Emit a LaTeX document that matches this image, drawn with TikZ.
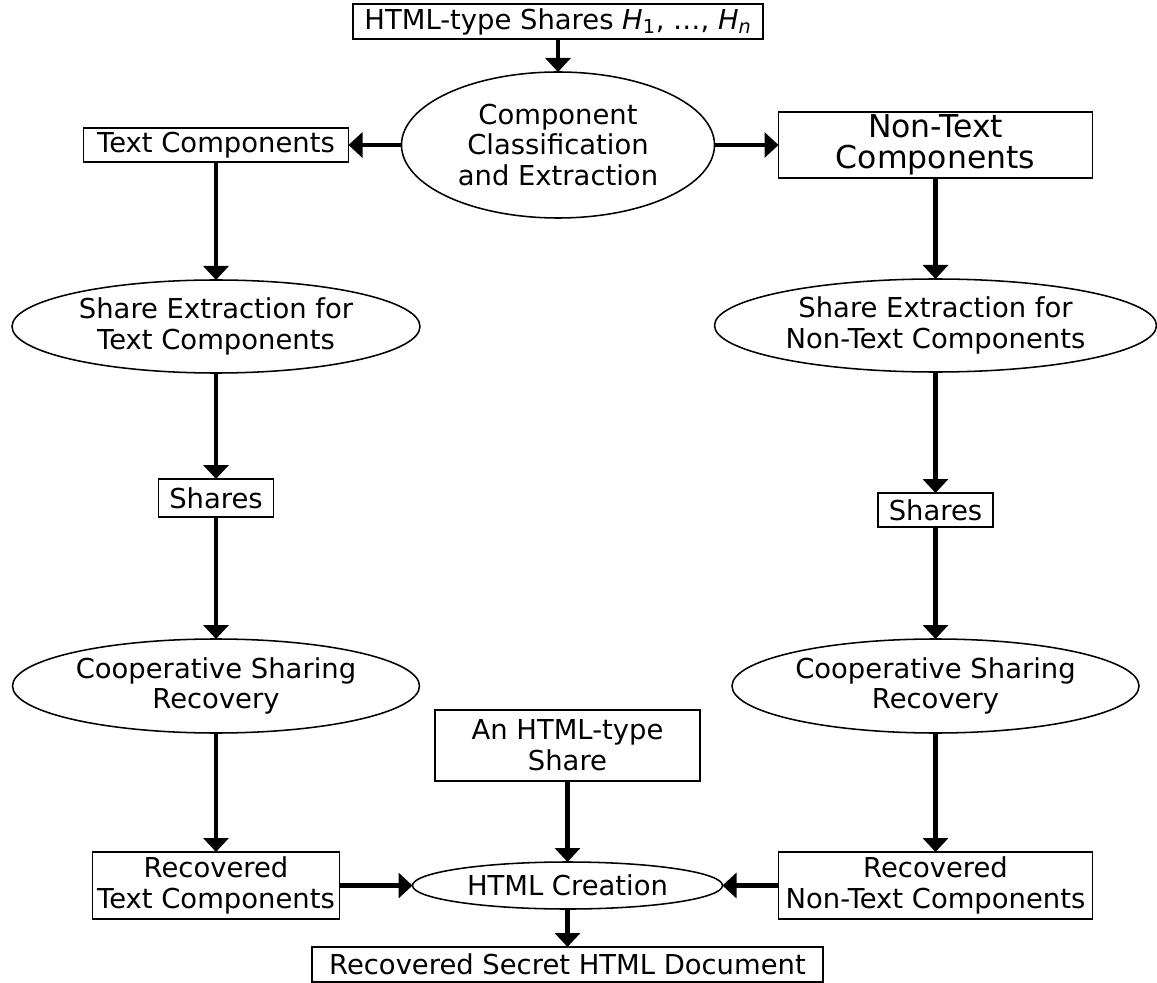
\documentclass[tikz,border=0pt]{standalone}
\usepackage{fontspec}
\setmainfont{DejaVu Sans}
\usetikzlibrary{arrows.meta, positioning, shapes.geometric}

\begin{document}
\begin{tikzpicture}
	[
	node distance=1cm,
        caja/.style={
            rectangle,
            draw=black,
            line width=1.4pt,
            inner sep=0pt,
            outer sep=0pt,
            align=center,
            font=\fontsize{19.5pt}{21.8pt}\selectfont
        },
        cajaGrande/.style={
            caja,
            font=\fontsize{22.4pt}{21.8pt}\selectfont
        },
        elipse/.style={
            ellipse,
            draw=black,
            line width=1.1pt,
            inner sep=0pt,
            outer sep=0pt,
            align=center,
            font=\fontsize{19.5pt}{21.8pt}\selectfont
        },
        flechaFlujo/.style={
            -{Triangle[width=0.625cm, length=0.35cm]},
            line width=3.5pt
        }
    ]
    \useasboundingbox (0,0) rectangle (28.925,-24.575);

    \node(clasificacion) [elipse, minimum width=7.825cm, minimum height=3.65cm] at (13.95,-3.625) {Component\\Classification\\and Extraction};
    \node(comparticiones) [caja, minimum width=10.25cm, minimum height=0.875cm, above=0.825cm of clasificacion] {HTML-type Shares {\itshape H}\textsubscript{1}, \ldots, {\itshape H\textsubscript{n}}};
    \node(textoComp) [caja, minimum width=6.625cm, minimum height=0.85cm, left=1.325cm of clasificacion] {Text Components};
    \node(noTextoComp) [cajaGrande, minimum width=7.85cm, minimum height=1.65cm, right=1.6cm of clasificacion] {Non-Text\\Components};

    \node(extraccionTexto) [elipse, minimum width=10.2cm, minimum height=2.325cm, below=2.95cm of textoComp] {Share Extraction for\\Text Components};
    \node(partesTexto) [caja, minimum width=2.875cm, minimum height=0.95cm, below=2.65cm of extraccionTexto] {Shares};
    \node(cooperativaTexto) [elipse, minimum width=10.175cm, minimum height=2.35cm, below=3.05cm of partesTexto] {Cooperative Sharing\\Recovery};
    \node(recuperadoTexto) [caja, minimum width=6.175cm, minimum height=1.675cm, below=2.975cm of cooperativaTexto] {Recovered\\Text Components};

    \node(extraccionNoTexto) [elipse, minimum width=11.05cm, minimum height=2.325cm, below=2.525cm of noTextoComp] {Share Extraction for\\Non-Text Components};
    \node(partesNoTexto) [caja, minimum width=2.875cm, minimum height=0.85cm, below=3.025cm of extraccionNoTexto] {Shares};
    \node(cooperativaNoTexto) [elipse, minimum width=10.175cm, minimum height=2.35cm, below=2.8cm of partesNoTexto] {Cooperative Sharing\\Recovery};
    \node(recuperadoNoTexto) [caja, minimum width=7.85cm, minimum height=1.675cm, below=2.975cm of cooperativaNoTexto] {Recovered\\Non-Text Components};

    \node(creacionHTML) [elipse, minimum width=7.75cm, minimum height=1.175cm, right=1.825cm of recuperadoTexto] {HTML Creation};
    \node(compartidaHTML) [caja, minimum width=6.625cm, minimum height=1.775cm, above=2.025cm of creacionHTML] {An HTML-type\\Share};
    \node(documentoSecreto) [caja, minimum width=12.775cm, minimum height=0.875cm, below=0.95cm of creacionHTML] {Recovered Secret HTML Document};

    \draw[flechaFlujo] (comparticiones)--(clasificacion);
    \draw[flechaFlujo] (clasificacion)--(textoComp);
    \draw[flechaFlujo] (clasificacion)--(noTextoComp);
    \draw[flechaFlujo] (textoComp)--(extraccionTexto);
    \draw[flechaFlujo] (extraccionTexto)--(partesTexto);
    \draw[flechaFlujo] (partesTexto)--(cooperativaTexto);
    \draw[flechaFlujo] (cooperativaTexto)--(recuperadoTexto);
    \draw[flechaFlujo] (noTextoComp)--(extraccionNoTexto);
    \draw[flechaFlujo] (extraccionNoTexto)--(partesNoTexto);
    \draw[flechaFlujo] (partesNoTexto)--(cooperativaNoTexto);
    \draw[flechaFlujo] (cooperativaNoTexto)--(recuperadoNoTexto);
    \draw[flechaFlujo] (recuperadoTexto)--(creacionHTML);
    \draw[flechaFlujo] (recuperadoNoTexto)--(creacionHTML);
    \draw[flechaFlujo] (compartidaHTML)--(creacionHTML);
    \draw[flechaFlujo] (creacionHTML)--(documentoSecreto);
\end{tikzpicture}
\end{document}
